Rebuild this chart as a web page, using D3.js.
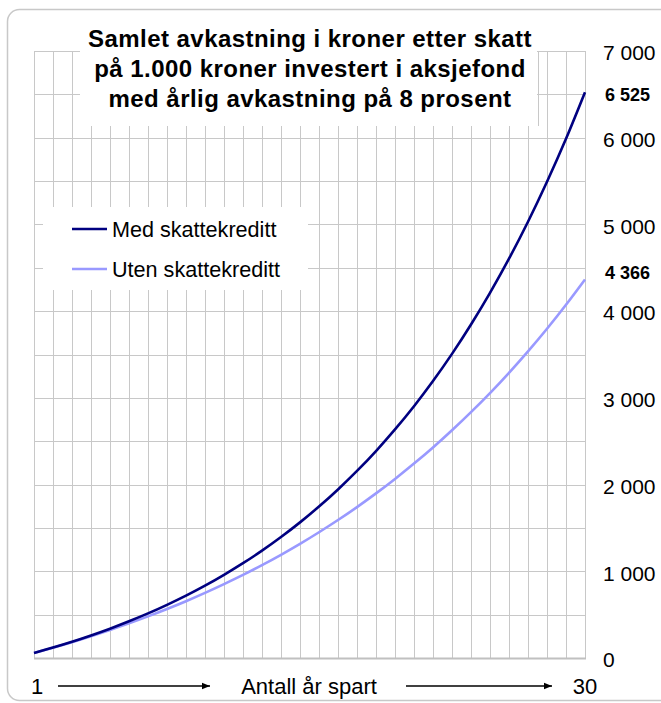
<!DOCTYPE html>
<html>
<head>
<meta charset="utf-8">
<script src="https://cdn.jsdelivr.net/npm/d3@7"></script>
<style>
  html, body { margin: 0; padding: 0; background: #fff; }
  svg { display: block; font-family: "Liberation Sans", Arial, sans-serif; }
</style>
</head>
<body>
<svg id="chart" width="661" height="703"></svg>
<script>
// ---- data ----
const years = [1,2,3,4,5,6,7,8,9,10,11,12,13,14,15,16,17,18,19,20,21,22,23,24,25,26,27,28,29,30];
const medSkattekreditt = [58,120,187,260,338,423,514,613,719,834,959,1093,1238,1395,1564,1747,1944,2157,2387,2636,2904,3194,3507,3846,4211,4605,5031,5492,5988,6525];
const utenSkattekreditt = [58,119,183,251,323,399,480,565,655,751,852,958,1071,1190,1316,1450,1591,1740,1898,2065,2242,2428,2626,2835,3055,3289,3536,3797,4074,4366];
const seriesNames = ["Med skattekreditt", "Uten skattekreditt"];
const seriesColors = ["#000080", "#9999ff"];
const yTicks = [0,1000,2000,3000,4000,5000,6000,7000];
const yGrid = [0,500,1000,1500,2000,2500,3000,3500,4000,4500,5000,5500,6000,6500,7000];
const titleLines = ["Samlet avkastning i kroner etter skatt", "på 1.000 kroner investert i aksjefond", "med årlig avkastning på 8 prosent"];
const xAxisTitle = "Antall år spart";

(function () {
// ---- layout ----
const svg = d3.select("#chart");
const pLeft = 34, pRight = 585, pTop = 51, pBottom = 658;
const x = d3.scaleLinear().domain([1, 30]).range([pLeft, pRight]);
const y = d3.scaleLinear().domain([0, 7000]).range([pBottom, pTop]);
const fmt = v => d3.format(",")(v).replace(/,/g, " ");
const gridColor = "#c8c8c8";

// outer frame
svg.append("rect").attr("x", 7.5).attr("y", 9.5).attr("width", 700).attr("height", 691)
  .attr("rx", 12).attr("fill", "#fff").attr("stroke", "#c8c8c8").attr("stroke-width", 1.5);

// grid
const g = svg.append("g");
g.selectAll("line.v").data(years).join("line")
  .attr("x1", d => Math.round(x(d)) + 0.5).attr("x2", d => Math.round(x(d)) + 0.5)
  .attr("y1", pTop).attr("y2", pBottom)
  .attr("stroke", gridColor).attr("stroke-width", 1);
g.selectAll("line.h").data(yGrid).join("line")
  .attr("x1", pLeft).attr("x2", pRight + 1)
  .attr("y1", d => Math.round(y(d)) + 0.5).attr("y2", d => Math.round(y(d)) + 0.5)
  .attr("stroke", gridColor).attr("stroke-width", 1);
svg.append("line").attr("x1", pLeft).attr("x2", pRight + 1)
  .attr("y1", Math.round(y(0)) + 0.5).attr("y2", Math.round(y(0)) + 0.5)
  .attr("stroke", "#c0c0c0").attr("stroke-width", 2);

// series lines
const seriesData = [medSkattekreditt, utenSkattekreditt];
const line = d3.line().x((d, i) => x(years[i])).y(d => y(d)).curve(d3.curveMonotoneX);
[1, 0].forEach(k => {
  svg.append("path").datum(seriesData[k])
    .attr("d", line).attr("fill", "none")
    .attr("stroke", seriesColors[k]).attr("stroke-width", 2.6)
    .attr("stroke-linejoin", "round");
});

// title box + title
svg.append("rect").attr("x", 80).attr("y", 20).attr("width", 457).attr("height", 106).attr("fill", "#fff");
svg.append("line").attr("x1", 538.5).attr("x2", 538.5).attr("y1", pTop).attr("y2", 126).attr("stroke", gridColor);
const title = svg.append("text").attr("text-anchor", "middle")
  .attr("font-weight", "bold").attr("font-size", 24).attr("letter-spacing", 0.45).attr("fill", "#000");
titleLines.forEach((t, i) => {
  title.append("tspan").attr("x", 310).attr("y", 47 + i * 30).text(t);
});

// legend
svg.append("rect").attr("x", 43).attr("y", 207).attr("width", 265).attr("height", 83).attr("fill", "#fff");
seriesNames.forEach((name, i) => {
  const ly = 229 + i * 40;
  svg.append("line").attr("x1", 72).attr("x2", 107).attr("y1", ly).attr("y2", ly)
    .attr("stroke", seriesColors[i]).attr("stroke-width", 2.6);
  svg.append("text").attr("x", 112).attr("y", ly).attr("dy", "0.36em")
    .attr("font-size", 21.6).attr("fill", "#000").text(name);
});

// right axis
const yAxis = d3.axisRight(y).tickValues(yTicks).tickFormat(fmt).tickSize(0).tickPadding(18);
const ya = svg.append("g").attr("transform", `translate(${pRight},0)`).call(yAxis);
ya.select(".domain").remove();
ya.selectAll("text").attr("font-size", 21).attr("font-family", "Liberation Sans, Arial, sans-serif")
  .attr("fill", "#000").attr("dy", "0.42em");

// end value labels
const endLabels = [
  { v: medSkattekreditt[medSkattekreditt.length - 1], dy: 2 },
  { v: utenSkattekreditt[utenSkattekreditt.length - 1], dy: -7 }
];
svg.selectAll("text.endlab").data(endLabels).join("text")
  .attr("x", 605).attr("y", d => y(d.v) + d.dy).attr("dy", "0.36em")
  .attr("font-size", 18).attr("font-weight", "bold").attr("fill", "#000")
  .text(d => fmt(d.v));

// x axis labels
svg.append("text").attr("x", x(years[0]) + 3).attr("y", 694).attr("text-anchor", "middle")
  .attr("font-size", 22).text(years[0]);
svg.append("text").attr("x", x(years[years.length - 1])).attr("y", 694).attr("text-anchor", "middle")
  .attr("font-size", 22).text(years[years.length - 1]);
svg.append("text").attr("x", 309).attr("y", 694).attr("text-anchor", "middle")
  .attr("font-size", 22).text(xAxisTitle);

// arrows
const defs = svg.append("defs");
defs.append("marker").attr("id", "arr").attr("viewBox", "0 0 10 10").attr("refX", 10).attr("refY", 5)
  .attr("markerWidth", 8).attr("markerHeight", 8).attr("markerUnits", "userSpaceOnUse")
  .attr("orient", "auto")
  .append("path").attr("d", "M0,1 L10,5 L0,9 Z").attr("fill", "#000");
[[58, 210], [406, 552]].forEach(([a, b]) => {
  svg.append("line").attr("x1", a).attr("x2", b).attr("y1", 686).attr("y2", 686)
    .attr("stroke", "#000").attr("stroke-width", 1.5).attr("marker-end", "url(#arr)");
});
})();
</script>
</body>
</html>
